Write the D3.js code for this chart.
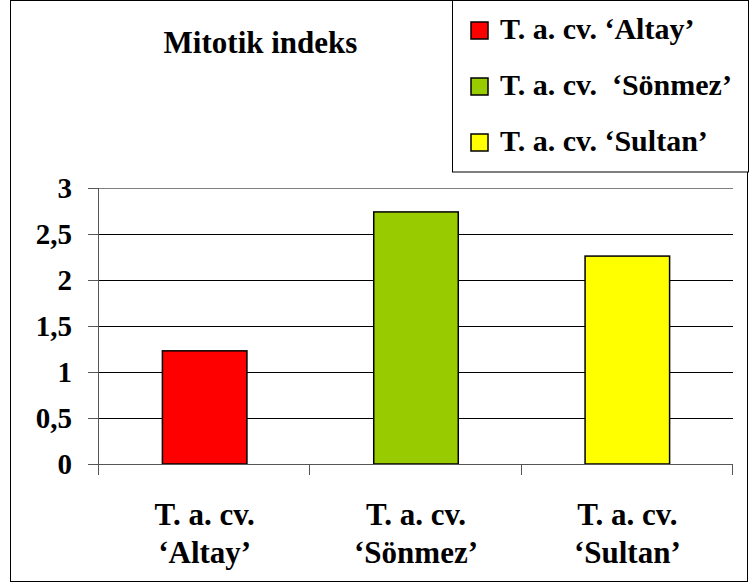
<!DOCTYPE html>
<html><head><meta charset="utf-8">
<script src="https://cdn.jsdelivr.net/npm/d3@7/dist/d3.min.js"></script>
</head>
<body style="margin:0">
<script>
const categories = ["Altay", "S\u00f6nmez", "Sultan"];
const values = [1.23, 2.74, 2.26];
const colors = ["#FF0000", "#99CC00", "#FFFF00"];
const legendLabels = ["T. a. cv. \u2018Altay\u2019", "T. a. cv.  \u2018S\u00f6nmez\u2019", "T. a. cv. \u2018Sultan\u2019"];
const catLine1 = ["T. a. cv.", "T. a. cv.", "T. a. cv."];
const catLine2 = ["\u2018Altay\u2019", "\u2018S\u00f6nmez\u2019", "\u2018Sultan\u2019"];
const yTicks = [0, 0.5, 1, 1.5, 2, 2.5, 3];
const title = "Mitotik indeks";

const FONT = "Times New Roman";
const W = 749, H = 583;
const svg = d3.select("body").append("svg").attr("width", W).attr("height", H)
  .style("display", "block").attr("font-family", FONT).attr("font-weight", "bold");

// outer border
svg.append("rect").attr("x", 10.5).attr("y", 0.5).attr("width", 737).attr("height", 581)
  .attr("fill", "#fff").attr("stroke", "#000").attr("stroke-width", 1);

const plot = {left: 99, right: 733, top: 188, bottom: 464};
const x = d3.scaleBand().domain(categories).range([plot.left, plot.right])
  .paddingInner(0.6).paddingOuter(0.3);
const y = d3.scaleLinear().domain([0, 3]).range([plot.bottom, plot.top]);

// gridlines
svg.append("g").selectAll("line").data(yTicks.filter(d => d > 0)).join("line")
  .attr("x1", plot.left).attr("x2", plot.right)
  .attr("y1", d => Math.round(y(d)) + 0.5).attr("y2", d => Math.round(y(d)) + 0.5)
  .attr("stroke", d => d === 3 ? "#808080" : "#000").attr("stroke-width", 1);

// bars
svg.append("g").selectAll("rect").data(categories).join("rect")
  .attr("x", d => x(d)).attr("width", x.bandwidth())
  .attr("y", (d, i) => y(values[i])).attr("height", (d, i) => y(0) - y(values[i]))
  .attr("fill", (d, i) => colors[i]).attr("stroke", "#000").attr("stroke-width", 1.5);

// y axis
const yAxis = svg.append("g").attr("transform", `translate(${plot.left},0)`)
  .call(d3.axisLeft(y).tickValues(yTicks).tickSize(11).tickPadding(16)
    .tickFormat(d => String(d).replace(".", ",")));
yAxis.attr("font-family", null).attr("font-size", null);
yAxis.select(".domain").attr("stroke", "#555").attr("d", `M-0.5,${plot.top}V${plot.bottom + 11}`);
yAxis.selectAll(".tick line").attr("stroke", "#555");
yAxis.selectAll("text").attr("font-size", 29).attr("fill", "#000").attr("dy", "0.34em");

// x axis baseline and boundary ticks
const step = x.step();
const bounds = categories.map(c => x(c) + x.bandwidth() / 2 - step / 2).concat([plot.right]);
svg.append("line").attr("x1", plot.left).attr("x2", plot.right)
  .attr("y1", plot.bottom + 0.5).attr("y2", plot.bottom + 0.5).attr("stroke", "#555");
svg.append("g").selectAll("line").data(bounds).join("line")
  .attr("x1", d => Math.round(d) - 0.5).attr("x2", d => Math.round(d) - 0.5)
  .attr("y1", plot.bottom).attr("y2", plot.bottom + 11).attr("stroke", "#555");

// category labels
const cl = svg.append("g").selectAll("g").data(categories).join("g");
cl.append("text").attr("x", d => x(d) + x.bandwidth() / 2).attr("y", 525)
  .attr("text-anchor", "middle").attr("font-size", 31).text((d, i) => catLine1[i]);
cl.append("text").attr("x", d => x(d) + x.bandwidth() / 2).attr("y", 563)
  .attr("text-anchor", "middle").attr("font-size", 31).text((d, i) => catLine2[i]);

// title
svg.append("text").attr("x", 260.5).attr("y", 53).attr("text-anchor", "middle")
  .attr("font-size", 31).text(title);

// legend
const lg = svg.append("g");
lg.append("rect").attr("x", 452.5).attr("y", 0.5).attr("width", 296).attr("height", 171.5)
  .attr("fill", "#fff").attr("stroke", "#000");
const items = lg.selectAll("g.item").data(legendLabels).join("g").attr("class", "item")
  .attr("transform", (d, i) => `translate(0,${i * 56})`);
items.append("rect").attr("x", 471).attr("y", 22).attr("width", 17).attr("height", 17)
  .attr("fill", (d, i) => colors[i]).attr("stroke", "#000").attr("stroke-width", 1.5);
items.append("text").attr("x", 500).attr("y", 39).attr("font-size", 30)
  .style("white-space", "pre").text(d => d);

svg.selectAll("text").attr("font-family", FONT).attr("font-weight", "bold");
</script>
</body></html>
